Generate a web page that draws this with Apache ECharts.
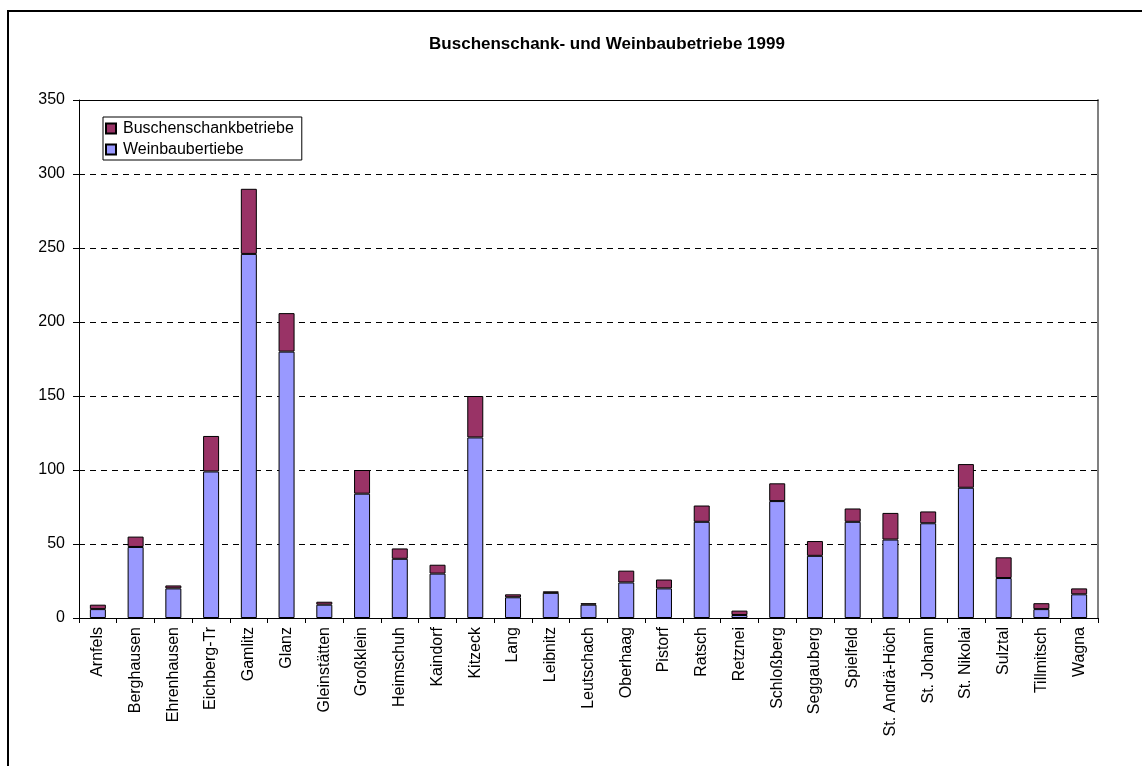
<!DOCTYPE html>
<html>
<head>
<meta charset="utf-8">
<script src="https://cdn.jsdelivr.net/npm/echarts@6/dist/echarts.min.js"></script>
<style>
  html, body { margin: 0; padding: 0; background: #fff; }
  #chart { width: 1142px; height: 766px; }
</style>
</head>
<body>
<div id="chart"></div>
<script>
// Gemeinden (Südsteiermark)
const categories = [
  'Arnfels', 'Berghausen', 'Ehrenhausen', 'Eichberg-Tr', 'Gamlitz', 'Glanz',
  'Gleinstätten', 'Großklein', 'Heimschuh', 'Kaindorf', 'Kitzeck', 'Lang',
  'Leibnitz', 'Leutschach', 'Oberhaag', 'Pistorf', 'Ratsch', 'Retznei',
  'Schloßberg', 'Seggauberg', 'Spielfeld', 'St. Andrä-Höch', 'St. Johann',
  'St. Nikolai', 'Sulztal', 'Tillmitsch', 'Wagna'
];

// Weinbaubetriebe je Gemeinde
const weinbau = [
  6, 48, 20, 99, 246, 180,
  9, 84, 40, 30, 122, 14,
  17, 9, 24, 20, 65, 2,
  79, 42, 65, 53, 64,
  88, 27, 6, 16
];

// Buschenschankbetriebe je Gemeinde
const buschenschank = [
  3, 7, 2, 24, 44, 26,
  2, 16, 7, 6, 28, 2,
  1, 1, 8, 6, 11, 3,
  12, 10, 9, 18, 8,
  16, 14, 4, 4
];

const yTicks = { min: 0, max: 350, interval: 50 };

const FONT = '"Liberation Sans", Arial, sans-serif';
const BLUE = '#9999FF';
const MAROON = '#993366';

const chart = echarts.init(document.getElementById('chart'), null, { renderer: 'canvas' });

chart.setOption({
  animation: false,
  backgroundColor: '#ffffff',
  textStyle: { fontFamily: FONT, color: '#000' },
  title: {
    text: 'Buschenschank- und Weinbaubetriebe 1999',
    left: 607,
    top: 36,
    textAlign: 'center',
    padding: 0,
    textStyle: { fontFamily: FONT, fontSize: 17, fontWeight: 'bold', color: '#000' }
  },
  legend: {
    orient: 'vertical',
    left: 103,
    top: 117,
    padding: [3, 8, 2, 2],
    itemGap: 4,
    itemWidth: 10,
    itemHeight: 10,
    backgroundColor: '#fff',
    borderColor: '#000',
    borderWidth: 1,
    borderRadius: 0,
    data: [
      { name: 'Buschenschankbetriebe', icon: 'rect' },
      { name: 'Weinbaubertiebe', icon: 'rect' }
    ],
    textStyle: { fontFamily: FONT, fontSize: 16, color: '#000', lineHeight: 17, padding: [0, 0, 0, 2] }
  },
  graphic: [
    {
      type: 'rect',
      shape: { x: 8, y: 11, width: 2000, height: 2000 },
      style: { fill: 'none', stroke: '#000', lineWidth: 2 },
      silent: true
    }
  ],
  grid: {
    left: 79,
    right: 44,
    top: 100,
    bottom: 148,
    containLabel: false
  },
  xAxis: [
    {
      type: 'category',
      data: categories,
      position: 'bottom',
      boundaryGap: true,
      axisLine: { onZero: false, lineStyle: { color: '#000', width: 1 } },
      axisTick: { show: true, length: 5, lineStyle: { color: '#000' } },
      axisLabel: {
        rotate: 90,
        interval: 0,
        margin: 9,
        fontFamily: FONT,
        fontSize: 16,
        color: '#000'
      },
      splitLine: { show: false }
    },
    {
      // solid frame line along the top of the plot area
      type: 'category',
      data: categories,
      position: 'top',
      axisLine: { onZero: false, lineStyle: { color: '#000', width: 1 } },
      axisTick: { show: false },
      axisLabel: { show: false },
      splitLine: { show: false }
    }
  ],
  yAxis: [
    {
      type: 'value',
      min: yTicks.min,
      max: yTicks.max,
      interval: yTicks.interval,
      position: 'left',
      axisLine: { show: true, onZero: false, lineStyle: { color: '#000', width: 1 } },
      axisTick: { show: true, length: 6, lineStyle: { color: '#000' } },
      axisLabel: { margin: 14, fontFamily: FONT, fontSize: 16, color: '#000' },
      splitLine: { show: true, lineStyle: { color: '#000', width: 1, type: [6, 5] } }
    },
    {
      // grey frame line on the right of the plot area
      type: 'value',
      min: yTicks.min,
      max: yTicks.max,
      interval: yTicks.interval,
      position: 'right',
      axisLine: { show: true, onZero: false, lineStyle: { color: '#808080', width: 2 } },
      axisTick: { show: false },
      axisLabel: { show: false },
      splitLine: { show: false }
    }
  ],
  series: [
    {
      name: 'Weinbaubertiebe',
      type: 'bar',
      stack: 'total',
      data: weinbau,
      barWidth: 16,
      itemStyle: { color: BLUE, borderColor: '#000', borderWidth: 1 }
    },
    {
      name: 'Buschenschankbetriebe',
      type: 'bar',
      stack: 'total',
      data: buschenschank,
      barWidth: 16,
      itemStyle: { color: MAROON, borderColor: '#000', borderWidth: 1 }
    }
  ]
});
</script>
</body>
</html>
